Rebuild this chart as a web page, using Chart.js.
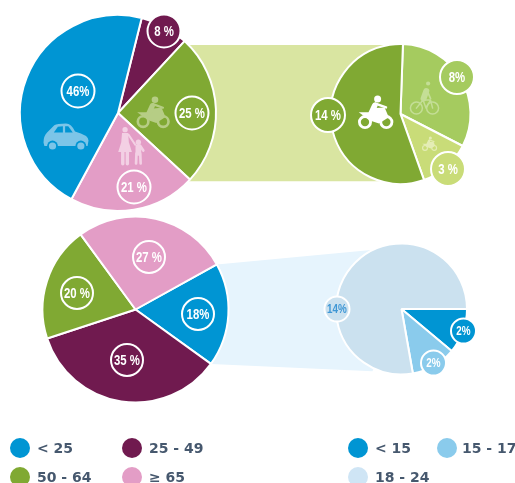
<!DOCTYPE html>
<html><head><meta charset="utf-8">
<script src="https://cdn.jsdelivr.net/npm/chart.js@4"></script>
<style>
html,body{margin:0;padding:0;background:#fff;width:515px;height:483px;overflow:hidden}
#wrap{position:absolute;left:0;top:0;width:515px;height:483px;filter:blur(.4px)}
canvas{position:absolute;left:0;top:0}
.lg{position:absolute;font:bold 14px "DejaVu Sans",sans-serif;color:#46586e;line-height:20px;white-space:nowrap}
.dot{position:absolute;width:20px;height:20px;border-radius:50%}
</style></head><body><div id="wrap">
<canvas id="pa" width="515" height="483"></canvas>
<canvas id="pb" width="515" height="483"></canvas>
<canvas id="pc" width="515" height="483"></canvas>
<canvas id="pd" width="515" height="483"></canvas>
</div>
<script>
// data
const ageCategoriesTop = ['25 - 49', '50 - 64', '≥ 65', '< 25'];
const ageValuesTop = [8, 25, 21, 46];
const ageLabelsTop = ['8 %', '25 %', '21 %', '46%'];
const modeCategories = ['Bicycle', 'Moped', 'Motorcycle'];
const modeValues = [8, 3, 14];
const modeLabels = ['8%', '3 %', '14 %'];
const ageCategoriesBottom = ['< 25', '25 - 49', '50 - 64', '≥ 65'];
const ageValuesBottom = [18, 35, 20, 27];
const ageLabelsBottom = ['18%', '35 %', '20 %', '27 %'];
const youngCategories = ['< 15', '15 - 17', '18 - 24'];
const youngValues = [2, 2, 14];
const youngLabels = ['2%', '2%', '14%'];
const legendLeft = ['< 25', '25 - 49', '50 - 64', '≥ 65'];
const legendRight = ['< 15', '15 - 17', '18 - 24'];

// styles
const BLUE='#0095d3',PURPLE='#701a4f',GREEN='#80a933',PINK='#e39dc6',
      LGREEN='#a5cb5f',LLGREEN='#c9dc78',SKY='#8acbec',PALE='#cbe1ef';
const W=515,H=483;
const geo={
  a:{cx:118,cy:113,r:98,rot:14},
  b:{cx:400.5,cy:114,r:70,rot:2},
  c:{cx:135.5,cy:309.5,r:93,rot:61},
  d:{cx:401.5,cy:309,r:65.5,rot:90}
};
const P=Math.PI/180;
function polar(g,deg,f){return [g.cx+g.r*f*Math.sin(deg*P),g.cy-g.r*f*Math.cos(deg*P)];}

const bandPlugin={id:'band',beforeDatasetsDraw(chart,args,o){
  if(!o.color)return;
  const arc=chart.getDatasetMeta(0).data[o.slice],ctx=chart.ctx,t=o.to;
  const pt=(ang)=>[arc.x+arc.outerRadius*Math.cos(ang),arc.y+arc.outerRadius*Math.sin(ang)];
  const T1=polar(t,o.topAngle,o.topF),T2=polar(t,o.botAngle,o.botF);
  const L1=o.flat?[arc.x,T1[1]]:pt(arc.startAngle),L2=o.flat?[arc.x,T2[1]]:pt(arc.endAngle);
  const pts=[L1,T1,[t.cx,t.cy],T2,L2];
  ctx.save();ctx.fillStyle=o.color;ctx.beginPath();
  pts.forEach((p,i)=>i?ctx.lineTo(p[0],p[1]):ctx.moveTo(p[0],p[1]));
  ctx.closePath();ctx.fill();ctx.restore();
}};

function moto(ctx,s,col){
  ctx.strokeStyle=col;ctx.fillStyle=col;ctx.lineCap='round';ctx.lineJoin='round';
  ctx.lineWidth=.08*s;
  [[-.3,.26],[.31,.26]].forEach(w=>{ctx.beginPath();ctx.arc(w[0]*s,w[1]*s,.16*s,0,7);ctx.stroke();});
  ctx.beginPath();ctx.moveTo(-.48*s,-.02*s);ctx.lineTo(-.12*s,-.02*s);ctx.lineTo(.0*s,-.14*s);ctx.lineTo(.26*s,-.16*s);
  ctx.lineTo(.38*s,.12*s);ctx.lineTo(.1*s,.3*s);ctx.lineTo(-.14*s,.22*s);ctx.closePath();ctx.fill();
  ctx.beginPath();ctx.arc(.06*s,-.4*s,.1*s,0,7);ctx.fill();
  ctx.lineWidth=.16*s;ctx.beginPath();ctx.moveTo(-.02*s,-.22*s);ctx.lineTo(-.12*s,.0*s);ctx.stroke();
  ctx.lineWidth=.07*s;ctx.beginPath();ctx.moveTo(0,-.27*s);ctx.lineTo(.3*s,-.16*s);ctx.stroke();
}
function bike(ctx,s,col){
  ctx.strokeStyle=col;ctx.fillStyle=col;ctx.lineCap='round';ctx.lineJoin='round';
  ctx.lineWidth=.05*s;
  [[-.27,.27],[.27,.27]].forEach(w=>{ctx.beginPath();ctx.arc(w[0]*s,w[1]*s,.2*s,0,7);ctx.stroke();});
  ctx.beginPath();ctx.moveTo(-.27*s,.27*s);ctx.lineTo(-.05*s,0);ctx.lineTo(.2*s,0);ctx.lineTo(.27*s,.27*s);
  ctx.moveTo(-.05*s,0);ctx.lineTo(.05*s,.27*s);ctx.lineTo(.2*s,0);ctx.stroke();
  ctx.beginPath();ctx.arc(.12*s,-.55*s,.07*s,0,7);ctx.fill();
  ctx.lineWidth=.2*s;ctx.beginPath();ctx.moveTo(.06*s,-.3*s);ctx.lineTo(-.03*s,-.05*s);ctx.stroke();
  ctx.lineWidth=.06*s;ctx.beginPath();ctx.moveTo(.08*s,-.33*s);ctx.lineTo(.2*s,-.05*s);ctx.stroke();
}
function car(ctx,s,col,win){
  ctx.fillStyle=col;ctx.beginPath();
  ctx.moveTo(-.5*s,.12*s);ctx.quadraticCurveTo(-.5*s,-.02*s,-.42*s,-.1*s);
  ctx.lineTo(-.26*s,-.26*s);ctx.quadraticCurveTo(-.2*s,-.3*s,0,-.3*s);
  ctx.quadraticCurveTo(.12*s,-.3*s,.2*s,-.12*s);ctx.quadraticCurveTo(.5*s,-.04*s,.5*s,.08*s);
  ctx.lineTo(.48*s,.2*s);ctx.lineTo(-.48*s,.2*s);ctx.closePath();ctx.fill();
  ctx.fillStyle=win;
  ctx.beginPath();ctx.moveTo(-.27*s,-.1*s);ctx.lineTo(-.18*s,-.23*s);ctx.lineTo(-.07*s,-.24*s);ctx.lineTo(-.07*s,-.1*s);ctx.closePath();ctx.fill();
  ctx.beginPath();ctx.moveTo(-.02*s,-.24*s);ctx.lineTo(.05*s,-.24*s);ctx.lineTo(.15*s,-.1*s);ctx.lineTo(-.02*s,-.1*s);ctx.closePath();ctx.fill();
  [-.3,.33].forEach(x=>{ctx.fillStyle=win;ctx.beginPath();ctx.arc(x*s,.2*s,.12*s,0,7);ctx.fill();
    ctx.fillStyle=col;ctx.beginPath();ctx.arc(x*s,.2*s,.08*s,0,7);ctx.fill();});
}
function people(ctx,s,col){
  ctx.fillStyle=col;ctx.strokeStyle=col;ctx.lineCap='round';
  ctx.beginPath();ctx.arc(-.13*s,-.43*s,.07*s,0,7);ctx.fill();
  ctx.beginPath();ctx.moveTo(-.21*s,-.34*s);ctx.lineTo(-.05*s,-.34*s);ctx.lineTo(-.03*s,-.1*s);ctx.lineTo(.05*s,.16*s);ctx.lineTo(-.31*s,.16*s);ctx.lineTo(-.23*s,-.1*s);ctx.closePath();ctx.fill();
  ctx.lineWidth=.09*s;
  ctx.beginPath();ctx.moveTo(-.19*s,.14*s);ctx.lineTo(-.19*s,.47*s);ctx.moveTo(-.07*s,.14*s);ctx.lineTo(-.07*s,.47*s);ctx.stroke();
  ctx.lineWidth=.05*s;ctx.beginPath();ctx.moveTo(-.04*s,-.3*s);ctx.lineTo(.14*s,-.03*s);ctx.stroke();
  ctx.beginPath();ctx.arc(.22*s,-.1*s,.07*s,0,7);ctx.fill();
  ctx.lineWidth=.15*s;ctx.beginPath();ctx.moveTo(.22*s,.02*s);ctx.lineTo(.22*s,.18*s);ctx.stroke();
  ctx.lineWidth=.07*s;ctx.beginPath();ctx.moveTo(.17*s,.2*s);ctx.lineTo(.16*s,.46*s);ctx.moveTo(.27*s,.2*s);ctx.lineTo(.28*s,.46*s);
  ctx.moveTo(.27*s,0);ctx.lineTo(.35*s,.12*s);ctx.stroke();
}
const iconDraw={moto,bike,car,people};

const overlayPlugin={id:'overlay',afterDatasetsDraw(chart,args,o){
  const ctx=chart.ctx,meta=chart.getDatasetMeta(0).data,ds=chart.data.datasets[0];
  (o.icons||[]).forEach(ic=>{
    ctx.save();ctx.translate(meta[0].x+ic.dx,meta[0].y+ic.dy);
    iconDraw[ic.kind](ctx,ic.size,ic.color,ic.color2);ctx.restore();
  });
  o.badges.forEach((b,i)=>{
    const x=meta[i].x+b[0],y=meta[i].y+b[1];
    ctx.save();
    ctx.beginPath();ctx.arc(x,y,o.radius,0,7);
    ctx.fillStyle=ds.backgroundColor[i];ctx.fill();
    ctx.lineWidth=2;ctx.strokeStyle='#fff';ctx.stroke();
    ctx.fillStyle=o.colors?o.colors[i]:'#fff';
    ctx.font='bold '+o.font+'px "Liberation Sans",sans-serif';
    ctx.textAlign='center';ctx.textBaseline='middle';
    ctx.translate(x,y+.5);ctx.scale(.76,1);
    ctx.fillText(o.labels[i],0,0);
    ctx.restore();
  });
}};

function pie(id,g,cats,vals,cols,overlay,band){
  const pad={left:g.cx-g.r-1,right:W-(g.cx+g.r+1),top:g.cy-g.r-1,bottom:H-(g.cy+g.r+1)};
  return new Chart(document.getElementById(id),{
    type:'pie',
    data:{labels:cats,datasets:[{data:vals,backgroundColor:cols,borderColor:'#fff',borderWidth:2}]},
    options:{responsive:false,animation:false,rotation:g.rot,layout:{padding:pad},
      plugins:{legend:{display:false},tooltip:{enabled:false},title:{display:false},
        overlay,band:band||{}}},
    plugins:[bandPlugin,overlayPlugin]
  });
}

pie('pa',geo.a,ageCategoriesTop,ageValuesTop,[PURPLE,GREEN,PINK,BLUE],
 {labels:ageLabelsTop,radius:16.5,font:15,
  badges:[[46,-82],[74,0],[16,74],[-40,-22]],
  icons:[{kind:'car',dx:-52,dy:24,size:45,color:'#7cc5e8',color2:BLUE},
         {kind:'moto',dx:35,dy:0,size:33,color:'#b6cd85'},
         {kind:'people',dx:12,dy:33,size:38,color:'#f3d0e4'}]},
 {color:'#d9e5a1',slice:1,to:geo.b,topAngle:0,topF:.986,botAngle:180,botF:.96,flat:true});
pie('pb',geo.b,modeCategories,modeValues,[LGREEN,LLGREEN,GREEN],
 {labels:modeLabels,radius:17,font:15,
  badges:[[56.5,-37],[47.5,55],[-72.5,1]],
  icons:[{kind:'moto',dx:-25,dy:-1,size:35,color:'#fff'},
         {kind:'bike',dx:24,dy:-14,size:30,color:'#c4de96'},
         {kind:'moto',dx:29,dy:30,size:15,color:'#e4edb5'}]});
pie('pc',geo.c,ageCategoriesBottom,ageValuesBottom,[BLUE,PURPLE,GREEN,PINK],
 {labels:ageLabelsBottom,radius:16,font:15,
  badges:[[62.5,4.5],[-8.5,50.5],[-58.5,-16.5],[13.5,-52.5]]},
 {color:'#e6f4fd',slice:0,to:geo.d,topAngle:335,topF:1,botAngle:205,botF:1.05});
pie('pd',geo.d,youngCategories,youngValues,[BLUE,SKY,PALE],
 {labels:youngLabels,radius:12.5,font:13,colors:['#fff','#fff','#3f97d5'],
  badges:[[62,22],[32,54],[-64.5,0]]});

// legend
const legendCols={'< 25':BLUE,'25 - 49':PURPLE,'50 - 64':GREEN,'≥ 65':PINK,'< 15':BLUE,'15 - 17':SKY,'18 - 24':'#cfe5f5'};
const slotsL=[[20,448],[132,448],[20,477],[132,477]];
const slotsR=[[358,448],[447,448],[358,477]];
const wrap=document.getElementById('wrap');
function addLegend(names,slots){
  names.forEach((n,i)=>{
    const d=document.createElement('div');d.className='dot';
    d.style.left=(slots[i][0]-10)+'px';d.style.top=(slots[i][1]-10)+'px';d.style.background=legendCols[n];
    const t=document.createElement('div');t.className='lg';t.textContent=n;
    t.style.left=(slots[i][0]+(slots[i][0]===447?15:17))+'px';t.style.top=(slots[i][1]-10)+'px';
    wrap.append(d,t);
  });
}
addLegend(legendLeft,slotsL);addLegend(legendRight,slotsR);
</script></body></html>
